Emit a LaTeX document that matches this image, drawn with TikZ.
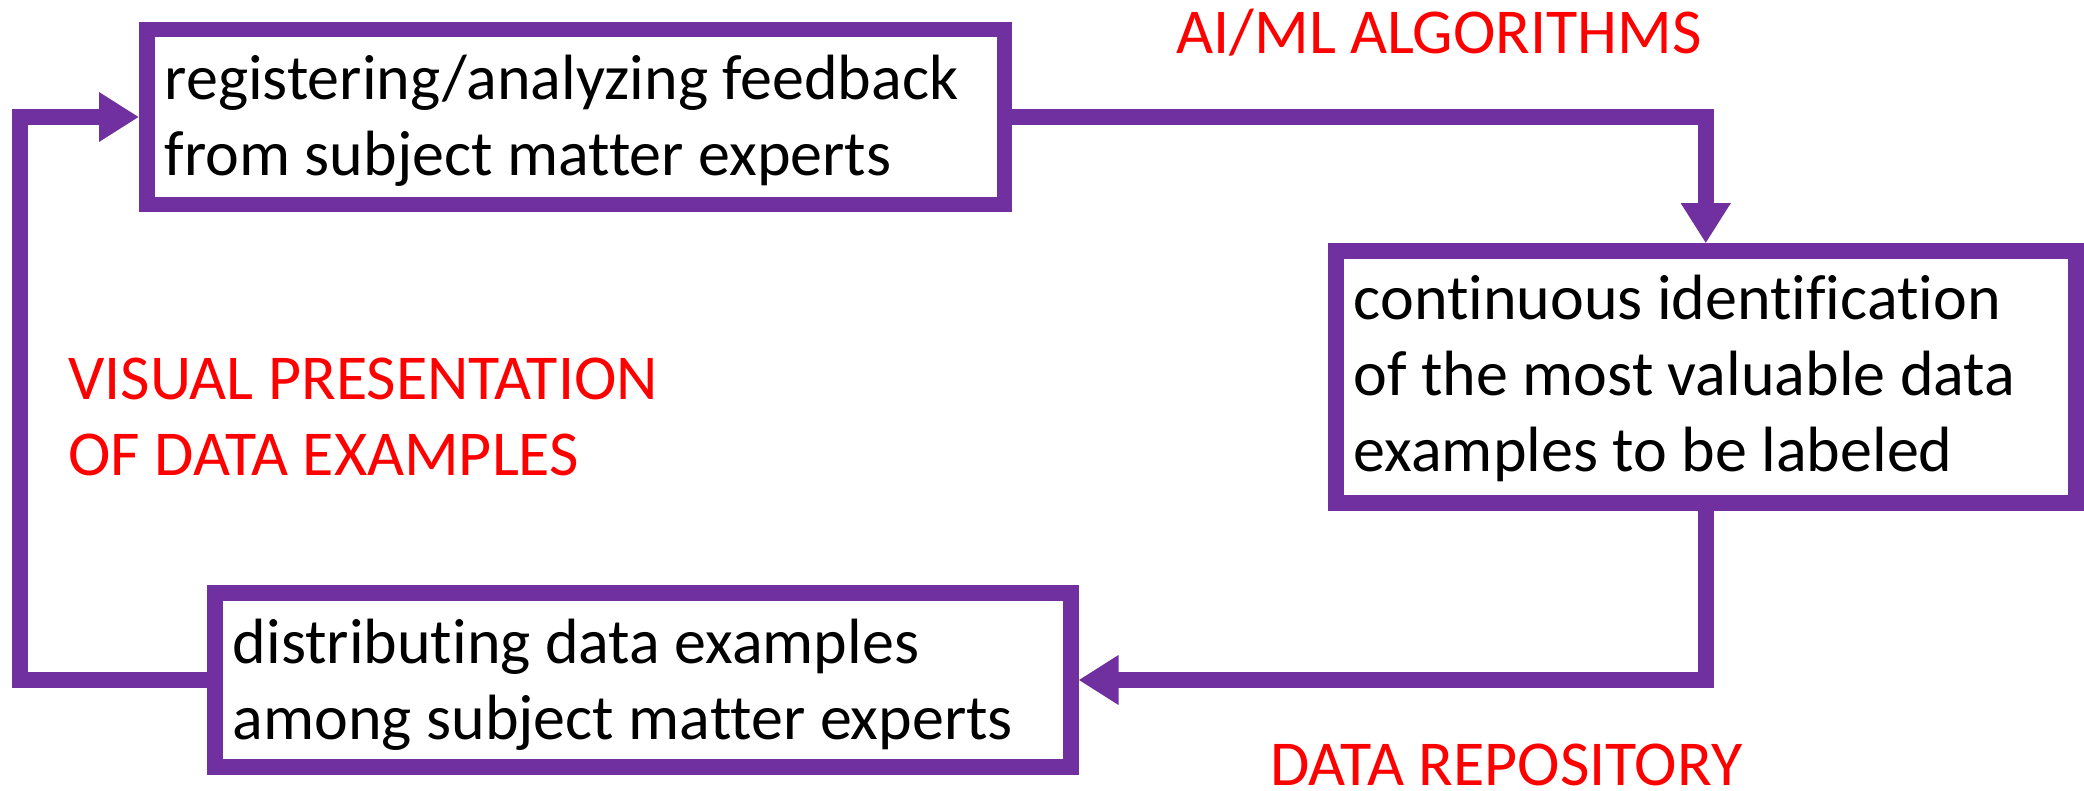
\documentclass[tikz,border=0pt]{standalone}
\usepackage{fontspec}
\setmainfont{Carlito}[Ligatures={NoCommon}]
\usetikzlibrary{arrows.meta}
\definecolor{boxpurple}{RGB}{112,48,160}
\definecolor{labelred}{RGB}{255,0,0}
\begin{document}
\begin{tikzpicture}[x=0.5pt,y=-0.5pt,
  naturalspace/.style={execute at begin node={\spaceskip=\fontdimen2\font\relax\xspaceskip=\fontdimen2\font\relax}},
  stepbox/.style={rectangle, draw=boxpurple, fill=white, line width=7.75pt, line join=miter,
    inner xsep=9pt, inner ysep=0pt, outer sep=3.875pt, align=left, anchor=base west,
    font=\fontsize{32pt}{38pt}\selectfont, naturalspace},
  flow/.style={draw=boxpurple, line width=8pt, line join=miter,
    -{Triangle[length=20pt,width=23.5pt]}},
  tag/.style={text=labelred, inner sep=0pt, anchor=base west, align=left,
    font=\fontsize{32pt}{38pt}\selectfont, naturalspace}
]
\useasboundingbox (0,0) rectangle (2084,791);

% process steps
\node[stepbox, text width=410.75pt, text height=35.25pt, text depth=52.25pt] (feedback) at (139,100)
  {registering/analyzing feedback\\from subject matter experts};
\node[stepbox, text width=352pt, text height=34.5pt, text depth=91.5pt] (identify) at (1328,320)
  {continuous identification\\of the most valuable data\\examples to be labeled};
\node[stepbox, text width=410pt, text height=35pt, text depth=52pt] (distribute) at (207,663)
  {distributing data examples\\among subject matter experts};

% loop connectors
\coordinate (loopx) at (20,400);
\draw[flow] (feedback.east) -| (identify.north);
\draw[flow] (identify.south) |- (distribute.east);
\draw[flow] (distribute.west) -- (distribute.west -| loopx) |- (feedback.west);

% stage labels
\node[tag] (algos) at (1176,54) {AI/ML ALGORITHMS};
\node[tag, text width=320pt] (visual) at (68,400) {VISUAL PRESENTATION\\OF DATA EXAMPLES};
\node[tag] (repo) at (1270,785) {DATA REPOSITORY};
\end{tikzpicture}
\end{document}
